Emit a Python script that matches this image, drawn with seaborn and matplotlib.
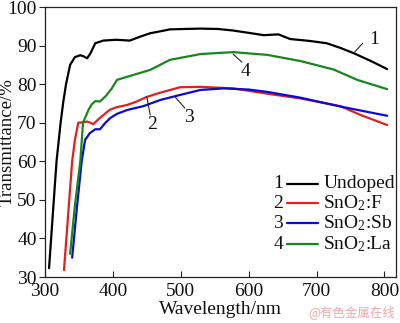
import matplotlib
matplotlib.use("Agg")
import matplotlib.pyplot as plt
import seaborn as sns
import pandas as pd

# Transmittance spectra of SnO2 films (wavelength in nm, transmittance in %)
wl_undoped = [306, 311, 317, 323, 327, 331, 337, 344, 352, 357, 362, 367, 374, 386, 405, 425, 440, 455, 470, 484, 505, 529, 555, 577, 600, 622, 644, 661, 690, 715, 735, 755, 780, 804]
tr_undoped = [32.3, 45.0, 60.0, 70.0, 75.5, 80.0, 85.0, 87.0, 87.5, 87.2, 86.7, 88.0, 90.6, 91.3, 91.5, 91.3, 92.3, 93.2, 93.7, 94.2, 94.3, 94.4, 94.3, 93.9, 93.3, 92.7, 92.9, 91.7, 91.2, 90.6, 89.4, 88.0, 86.0, 83.9]

wl_f = [328, 334, 340, 344, 349, 355, 362, 367, 371, 378, 386, 395, 405, 421, 435, 450, 470, 499, 529, 577, 632, 676, 735, 765, 804]
tr_f = [31.8, 46.0, 60.0, 65.5, 70.0, 70.1, 70.3, 70.0, 69.6, 70.8, 72.0, 73.3, 74.0, 74.6, 75.5, 76.7, 77.8, 79.2, 79.3, 78.9, 77.4, 76.3, 74.3, 72.0, 69.4]

wl_sb = [340, 347, 354, 359, 366, 374, 381, 388, 396, 406, 421, 445, 470, 499, 529, 563, 600, 627, 676, 735, 804]
tr_sb = [35.0, 48.0, 60.0, 65.5, 67.3, 68.3, 68.3, 69.8, 71.2, 72.3, 73.3, 74.3, 75.9, 77.2, 78.5, 78.9, 78.6, 78.0, 76.5, 74.2, 71.8]

wl_la = [337, 344, 352, 356, 364, 369, 374, 381, 390, 398, 406, 421, 455, 484, 529, 577, 627, 676, 725, 760, 804]
tr_la = [36.0, 48.5, 60.0, 70.0, 73.3, 74.8, 75.6, 75.5, 77.0, 78.8, 81.1, 81.9, 83.7, 86.3, 87.8, 88.3, 87.6, 86.0, 83.8, 81.1, 78.7]

series_names = ["Undoped", "SnO$_2$:F", "SnO$_2$:Sb", "SnO$_2$:La"]
series_nums = ["1", "2", "3", "4"]
series_colors = ["#000000", "#e3201e", "#0a0ad2", "#17871c"]

frames = []
for name, wl, tr in zip(series_names,
                        [wl_undoped, wl_f, wl_sb, wl_la],
                        [tr_undoped, tr_f, tr_sb, tr_la]):
    frames.append(pd.DataFrame({"Wavelength": wl, "Transmittance": tr, "Sample": name}))
df = pd.concat(frames, ignore_index=True)

sns.set_theme(style="ticks")
plt.rcParams["font.family"] = ["Liberation Serif", "DejaVu Serif"]
plt.rcParams["mathtext.fontset"] = "custom"
plt.rcParams["mathtext.rm"] = "Liberation Serif"
plt.rcParams["mathtext.it"] = "Liberation Serif"

fig = plt.figure(figsize=(4.0, 3.23), dpi=100)
ax = fig.add_axes([45 / 400, 1 - 277 / 323, 351 / 400, 270 / 323])

sns.lineplot(data=df, x="Wavelength", y="Transmittance", hue="Sample",
             hue_order=series_names, palette=series_colors, sort=False,
             estimator=None, linewidth=1.6, ax=ax, legend=False)
for ln in ax.lines:
    ln.set_solid_joinstyle("round")

ax.set_xlim(300, 817)
ax.set_ylim(30, 100)
ax.set_xticks([300, 400, 500, 600, 700, 800])
ax.set_yticks([30, 40, 50, 60, 70, 80, 90, 100])
ax.tick_params(axis="x", direction="in", length=4, width=0.8, labelsize=14, pad=4, colors="#222222")
ax.tick_params(axis="y", direction="out", length=4, width=0.8, labelsize=14, pad=2, colors="#222222")
for lab in ax.get_xticklabels() + ax.get_yticklabels():
    lab.set_color("#111111")
for sp in ax.spines.values():
    sp.set_visible(True)
    sp.set_linewidth(0.9)
    sp.set_color("#222222")

ax.set_xlabel("Wavelength/nm", fontsize=14, labelpad=1, color="#111111")
ax.set_ylabel("Transmittance/%", fontsize=13.5, labelpad=0, color="#111111")
ax.yaxis.set_label_coords(-0.083, 0.5)

# Curve labels with short leader lines
callouts = [
    ("1", (756, 88.3), (768, 90.6), (785, 91.6)),
    ("2", (450, 76.7), (455, 72.0), (458, 69.6)),
    ("3", (492, 76.6), (506, 73.8), (512, 71.4)),
    ("4", (577, 87.8), (590, 85.7), (596, 83.4)),
]
for num, p0, p1, ptxt in callouts:
    ax.plot([p0[0], p1[0]], [p0[1], p1[1]], color="#222222", linewidth=0.8)
    ax.text(ptxt[0], ptxt[1], num, fontsize=14, ha="center", va="center", color="#111111")

# Legend: numbered rows with a line swatch and the sample name
rows_y = [0.345, 0.273, 0.199, 0.122]
for num, name, color, yy in zip(series_nums, series_names, series_colors, rows_y):
    ax.text(0.665, yy, num, transform=ax.transAxes, fontsize=14, ha="center", va="center", color="#111111")
    ax.plot([0.69, 0.778], [yy, yy], transform=ax.transAxes, color=color, linewidth=1.6)
    ax.text(0.793, yy, name, transform=ax.transAxes, fontsize=14, ha="left", va="center", color="#111111")

fig.text(0.988, 0.012, "@有色金属在线", fontsize=9, ha="right", va="bottom",
         color="#f0a8a8", family=["Noto Sans CJK SC", "DejaVu Sans"])

fig.savefig("out.png", dpi=100)
